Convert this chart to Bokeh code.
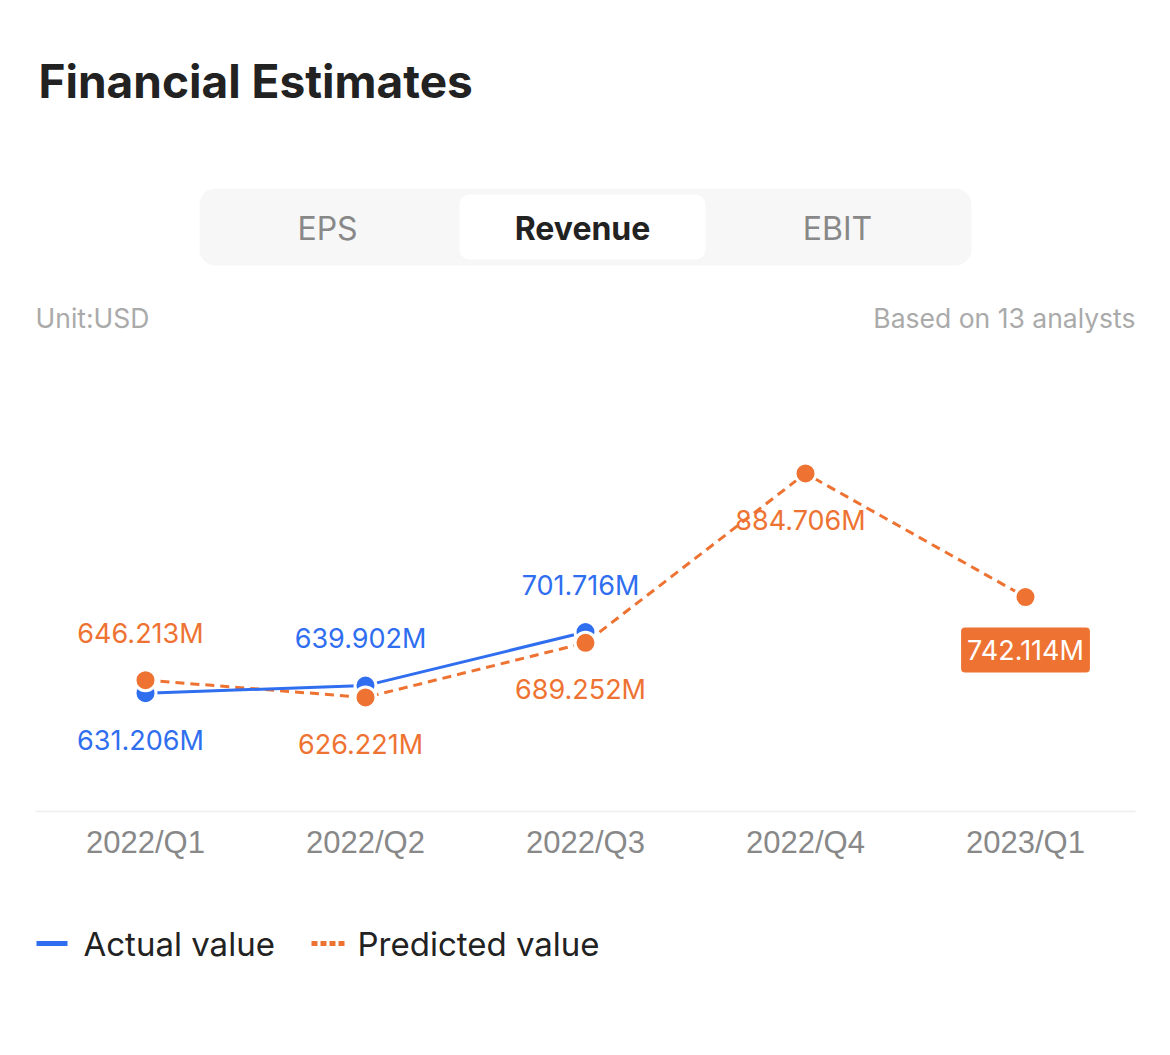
from bokeh.plotting import figure
from bokeh.models import FactorRange, Range1d, ColumnDataSource, Label
from bokeh.layouts import column
from bokeh.embed import file_html
from bokeh.resources import INLINE
from bokeh.core.properties import value

# ---------------- data ----------------
categories = ["2022/Q1", "2022/Q2", "2022/Q3", "2022/Q4", "2023/Q1"]
actual = [631.206, 639.902, 701.716]
predicted = [646.213, 626.221, 689.252, 884.706, 742.114]
tabs = ["EPS", "Revenue", "EBIT"]
active_tab = "Revenue"
unit_text = "Unit:USD"
analyst_count = 13
title_text = "Financial Estimates"
legend_labels = ["Actual value", "Predicted value"]

# ---------------- style ----------------
W = 1170
SIDE = 35
BLUE = "#306EF0"
ORANGE = "#EE7332"
FONT = value("Inter")


def blank(h, y_top, y_bot):
    f = figure(width=W, height=h, x_range=Range1d(SIDE, W - SIDE), y_range=Range1d(y_bot, y_top),
               output_backend="svg", toolbar_location=None,
               min_border_left=SIDE, min_border_right=SIDE, min_border_top=0, min_border_bottom=0,
               x_axis_location=None, y_axis_location=None)
    f.grid.visible = False
    f.outline_line_color = None
    f.background_fill_color = "white"
    f.border_fill_color = "white"
    return f


# ---------------- header ----------------
hdr = blank(340, 0, 340)
hdr.text(x=[38], y=[80], text=[title_text], text_font=FONT, text_font_style="bold",
         text_font_size="46px", text_color="#222222", text_baseline="middle", text_align="left")
hdr.quad(left=[199], right=[971], top=[188], bottom=[265], fill_color="#F7F7F7",
         line_color=None, border_radius=16)
tab_centers = [327, 582, 837]
act_i = tabs.index(active_tab)
hdr.quad(left=[tab_centers[act_i] - 123], right=[tab_centers[act_i] + 123], top=[194], bottom=[259],
         fill_color="white", line_color=None, border_radius=10)
for t, cx in zip(tabs, tab_centers):
    hdr.text(x=[cx], y=[228], text=[t], text_font=FONT,
             text_font_style="bold" if t == active_tab else "normal",
             text_font_size="32px", text_color="#222222" if t == active_tab else "#888888",
             text_baseline="middle", text_align="center")
hdr.text(x=[SIDE], y=[317], text=[unit_text], text_font=FONT, text_font_size="26.5px",
         text_color="#AAAAAA", text_baseline="middle", text_align="left")
hdr.text(x=[W - SIDE], y=[317], text=[f"Based on {analyst_count} analysts"], text_font=FONT,
         text_font_size="26.5px", text_color="#AAAAAA", text_baseline="middle", text_align="right")

# ---------------- chart ----------------
p = figure(width=W, height=560, x_range=FactorRange(*categories), y_range=Range1d(494.67, 1000),
           output_backend="svg", toolbar_location=None,
           min_border_left=SIDE, min_border_right=SIDE, min_border_top=33, min_border_bottom=89,
           y_axis_location=None)
p.grid.visible = False
p.outline_line_color = None
p.background_fill_color = "white"
p.border_fill_color = "white"
p.xaxis.axis_line_color = "#EEEEEE"
p.xaxis.axis_line_width = 1.5
p.xaxis.major_tick_line_color = None
p.xaxis.minor_tick_line_color = None
p.xaxis.major_tick_out = 0
p.xaxis.major_tick_in = 0
p.xaxis.major_label_standoff = 13
p.xaxis.major_label_text_font = "Liberation Sans"
p.xaxis.major_label_text_font_size = "31px"
p.xaxis.major_label_text_color = "#888888"

act_src = ColumnDataSource(dict(x=categories[:len(actual)], y=actual))
pred_src = ColumnDataSource(dict(x=categories, y=predicted))

p.line("x", "y", source=pred_src, line_color=ORANGE, line_width=3, line_dash="9 6")
p.line("x", "y", source=act_src, line_color=BLUE, line_width=3)
p.scatter("x", "y", source=act_src, size=21, fill_color=BLUE, line_color="white", line_width=3)
p.scatter("x", "y", source=pred_src, size=21, fill_color=ORANGE, line_color="white", line_width=3)

OFF = 47
lx, ly, lt, lc, lo = [], [], [], [], []
box = None
last = len(categories) - 1
for i, cat in enumerate(categories):
    pv = predicted[i]
    av = actual[i] if i < len(actual) else None
    if av is not None:
        a_up = av >= pv
        for v, c, o in ((av, BLUE, -OFF if a_up else OFF), (pv, ORANGE, OFF if a_up else -OFF)):
            lx.append(cat); ly.append(v); lt.append(f"{v:.3f}M"); lc.append(c); lo.append(o)
    elif i == last:
        box = (cat, pv)
    else:
        lx.append(cat); ly.append(pv); lt.append(f"{pv:.3f}M"); lc.append(ORANGE); lo.append(OFF)

lab_src = ColumnDataSource(dict(x=lx, y=ly, text=lt, color=lc, off=lo))
p.text("x", "y", text="text", source=lab_src, text_color="color", y_offset="off", x_offset=-5,
       text_font=FONT, text_font_size="27px", text_align="center", text_baseline="middle")

if box is not None:
    bsrc = ColumnDataSource(dict(x=[box[0]], y=[box[1]], text=[f"{box[1]:.3f}M"]))
    try:
        p.text("x", "y", text="text", source=bsrc, text_color="white", y_offset=53,
               text_font=FONT, text_font_size="27px", text_align="center", text_baseline="middle",
               background_fill_color=ORANGE, border_radius=4, padding=6)
    except Exception:
        p.add_layout(Label(x=last + 0.5, y=box[1], text=f"{box[1]:.3f}M", y_offset=-53,
                           text_color="white", text_font="Inter", text_font_size="27px",
                           text_align="center", text_baseline="middle",
                           background_fill_color=ORANGE))

# ---------------- legend ----------------
leg = blank(150, 900, 1050)
leg.segment(x0=[36], y0=[943], x1=[67], y1=[943], line_color=BLUE, line_width=5)
leg.text(x=[83], y=[943], text=[legend_labels[0]], text_font=FONT, text_font_size="33px",
         text_color="#222222", text_baseline="middle", text_align="left")
leg.segment(x0=[311], y0=[943], x1=[345], y1=[943], line_color=ORANGE, line_width=5,
            line_dash="6 3")
leg.text(x=[357], y=[943], text=[legend_labels[1]], text_font=FONT, text_font_size="33px",
         text_color="#222222", text_baseline="middle", text_align="left")

layout = column(hdr, p, leg, spacing=0)
open("out.html", "w").write(file_html(layout, INLINE))
